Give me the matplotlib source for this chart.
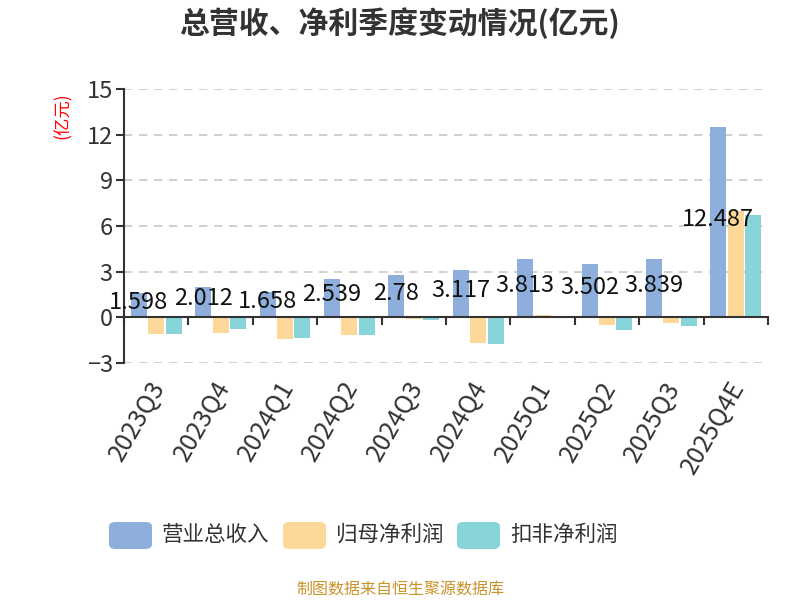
import numpy as np
from matplotlib import pyplot as plt
from matplotlib.patches import FancyBboxPatch

plt.rcParams['font.family'] = ['Noto Sans CJK SC', 'DejaVu Sans']

quarters = ['2023Q3', '2023Q4', '2024Q1', '2024Q2', '2024Q3',
            '2024Q4', '2025Q1', '2025Q2', '2025Q3', '2025Q4E']
revenue = [1.598, 2.012, 1.658, 2.539, 2.78, 3.117, 3.813, 3.502, 3.839, 12.487]
net_profit = [-1.08, -1.02, -1.41, -1.19, -0.13, -1.66, 0.18, -0.48, -0.35, 6.98]
deducted_profit = [-1.1, -0.77, -1.35, -1.19, -0.15, -1.75, 0.01, -0.84, -0.55, 6.71]
yticks = [-3, 0, 3, 6, 9, 12, 15]

series_names = ['营业总收入', '归母净利润', '扣非净利润']
colors = ['#8eaedb', '#fed898', '#87d5d8']

fig = plt.figure(figsize=(8, 6), dpi=100)
ax = fig.add_axes([0.155, 0.395, 0.805, 0.4567])

x = np.arange(len(quarters))
w = 0.25
step = 0.27
for i, (vals, c) in enumerate(zip([revenue, net_profit, deducted_profit], colors)):
    ax.bar(x + (i - 1) * step, vals, width=w, color=c, zorder=3)

# подписи выручки по центру столбца
for xi, v in zip(x, revenue):
    ax.text(xi - step, v / 2 + 0.2, f'{v:g}', ha='center', va='center',
            fontsize=17, color='#111111', zorder=4)

ax.set_xlim(-0.5, len(quarters) - 0.5)
ax.set_ylim(-3, 15)
ax.set_yticks(yticks)
ax.tick_params(axis='y', labelsize=17, colors='#333333', length=6, width=1.5, pad=2)
ax.yaxis.grid(True, linestyle=(0, (5, 4)), color='#c8c8c8', linewidth=1.2, zorder=0)

ax.set_xticks(np.arange(len(quarters) + 1) - 0.5)
ax.set_xticklabels([])
ax.tick_params(axis='x', length=6, width=1.5, colors='#333333', direction='out')
for xi, q in zip(x, quarters):
    ax.text(xi - 0.12, -3.9, q, rotation=60, ha='right', va='top', rotation_mode='anchor',
            fontsize=18, color='#333333')

for s in ['top', 'right']:
    ax.spines[s].set_visible(False)
ax.spines['left'].set_color('#333333')
ax.spines['left'].set_linewidth(1.5)
ax.spines['bottom'].set_position(('data', 0))
ax.spines['bottom'].set_color('#333333')
ax.spines['bottom'].set_linewidth(1.5)
ax.spines['bottom'].set_zorder(5)

fig.text(0.079, 0.808, '(亿元)', rotation=90, color='red', fontsize=12.5,
         ha='center', va='center')
fig.text(0.499, 0.962, '总营收、净利季度变动情况(亿元)', fontsize=21.5, fontweight='bold',
         color='#333333', ha='center', va='center')

# легенда вручную
leg_x = [109, 283, 457]
for lx, name, c in zip(leg_x, series_names, colors):
    patch = FancyBboxPatch((lx / 800, 1 - 549 / 600), 43 / 800, 27 / 600,
                           boxstyle='round,pad=0,rounding_size=0.008',
                           transform=fig.transFigure, color=c, ec='none')
    fig.patches.append(patch)
    fig.text((lx + 53) / 800, 1 - 535 / 600, name, fontsize=15.5, color='#333333',
             ha='left', va='center')

fig.text(0.5, 1 - 590 / 600, '制图数据来自恒生聚源数据库', fontsize=11.5,
         color='#c8922b', ha='center', va='center')

fig.savefig('out.png', dpi=100)
